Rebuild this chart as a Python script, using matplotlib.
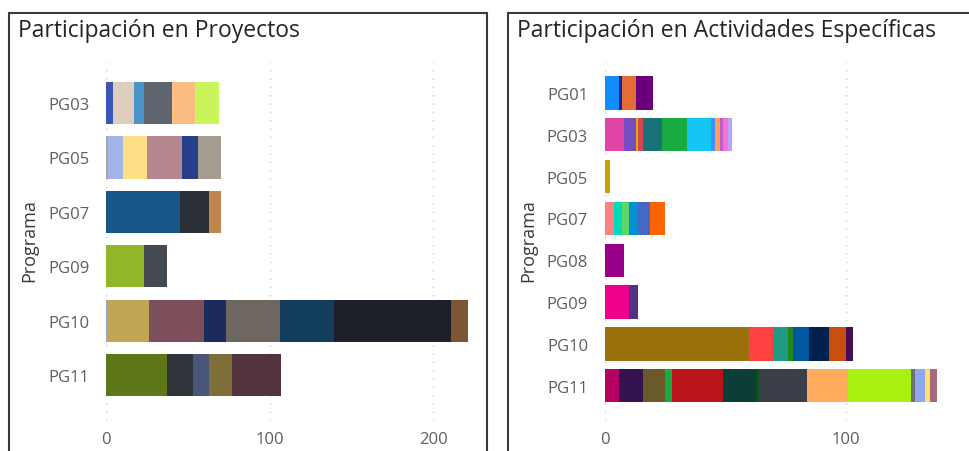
import matplotlib
matplotlib.use("Agg")
import matplotlib.pyplot as plt
from matplotlib.patches import Rectangle
import numpy as np

# ---------------- data ----------------
left_categories = ["PG03", "PG05", "PG07", "PG09", "PG10", "PG11"]
left_values = [
    [4, 13, 6, 17, 14, 15],
    [1, 9, 15, 21, 10, 14],
    [45, 18, 7],
    [23, 14],
    [1, 25, 34, 13, 33, 33, 72, 10],
    [37, 16, 10, 14, 30],
]
left_colors = [
    ["#3a56b8", "#dfcebe", "#4b94c9", "#5f656e", "#fbbd82", "#c9f55b"],
    ["#a8a8a8", "#a3b4ea", "#fde086", "#b6878f", "#26408b", "#a69b8f"],
    ["#175687", "#2b2f37", "#c0864d"],
    ["#93b52a", "#454950"],
    ["#9aa6c8", "#c0a653", "#7c4f5a", "#1c2b5d", "#6e6760", "#123d5d", "#1d2029", "#7c5535"],
    ["#5e7719", "#31333a", "#4a5678", "#7e6e39", "#53333c"],
]
left_ticks = [0, 100, 200]

right_categories = ["PG01", "PG03", "PG05", "PG07", "PG08", "PG09", "PG10", "PG11"]
right_values = [
    [6, 1, 6, 7],
    [8, 5, 1, 2, 8, 10, 10, 2, 2, 1, 2, 2],
    [2],
    [4, 3, 3, 4, 5, 6],
    [8],
    [10, 4],
    [60, 10, 6, 2, 7, 8, 7, 3],
    [6, 10, 9, 3, 21, 14, 1, 20, 17, 26, 2, 4, 2, 3],
]
right_colors = [
    ["#118DFF", "#12239E", "#E66C37", "#6B007B"],
    ["#E044A7", "#744EC2", "#D9B300", "#D64550", "#197278", "#1AAB40",
     "#15C6F4", "#4092FF", "#FFA058", "#BE5DC9", "#F472D0", "#B5A1FF"],
    ["#C4A200"],
    ["#FF8080", "#00DBBC", "#5BD667", "#0091D5", "#4668C5", "#FF6300"],
    ["#99008A"],
    ["#EC008C", "#533285"],
    ["#99700A", "#FF4141", "#1F9A85", "#25891C", "#0057A2", "#002050", "#C94F0F", "#450F54"],
    ["#B60064", "#34124F", "#6A5A29", "#1AAB40", "#BA141A", "#0C3D37", "#0B511F",
     "#3a3f4a", "#FFAA5C", "#A9F20F", "#6b6f76", "#8DA8EC", "#FFE06B", "#A6697B"],
]
right_ticks = [0, 100]

titles = ["Participación en Proyectos", "Participación en Actividades Específicas"]
ylabel = "Programa"

# ---------------- figure ----------------
W, H = 969, 452
fig = plt.figure(figsize=(W / 100, H / 100), dpi=100)
fig.patch.set_facecolor("white")


def px_rect(x0, y0, x1, y1):
    return [x0 / W, 1 - y1 / H, (x1 - x0) / W, (y1 - y0) / H]


# frames
for (x0, x1) in [(9, 487), (508, 975)]:
    fig.patches.append(Rectangle((x0 / W, -0.05), (x1 - x0) / W, 1 - 14 / H + 0.05,
                                 transform=fig.transFigure, fill=False,
                                 edgecolor="#3a3a3a", linewidth=1.5, zorder=0))

# titles
fig.text(18 / W, 1 - 37 / H, titles[0], family="Open Sans", fontsize=16.5, color="#252423")
fig.text(517 / W, 1 - 37 / H, titles[1], family="Open Sans", fontsize=16.5, color="#252423")


def draw(ax_px, cats, vals, cols, ticks, xmax, ylim, height, ylab_x):
    ax = fig.add_axes(px_rect(*ax_px))
    y = np.arange(len(cats))
    for i, (v, c) in enumerate(zip(vals, cols)):
        left = np.concatenate([[0], np.cumsum(v)[:-1]])
        ax.barh([y[i]] * len(v), v, left=left, color=c, height=height,
                edgecolor="none", zorder=3)
    ax.set_xlim(0, xmax)
    ax.set_ylim(*ylim)
    ax.set_yticks(y)
    ax.set_yticklabels(cats, family="Open Sans", fontsize=12, color="#605E5C")
    ax.set_xticks(ticks)
    ax.set_xticklabels([str(t) for t in ticks], family="Open Sans", fontsize=12,
                       color="#605E5C")
    ax.tick_params(length=0)
    ax.tick_params(axis="y", pad=12)
    ax.tick_params(axis="x", pad=7)
    for s in ax.spines.values():
        s.set_visible(False)
    ax.grid(axis="x", color="#c8c8c8", linewidth=1, linestyle=(0, (1, 5)), zorder=0)
    ax.set_axisbelow(True)
    fig.text(ylab_x / W, 1 - 241 / H, ylabel, rotation=90, family="Open Sans",
             fontsize=13, color="#3b3a39", ha="center", va="center")
    return ax


draw((106.3, 63, 475, 422), left_categories, left_values, left_colors, left_ticks,
     (475 - 106.3) / 1.635, (5.841, -0.751), 0.777, 29)
draw((604.7, 63, 945, 422), right_categories, right_values, right_colors, right_ticks,
     (945 - 604.7) / 2.408, (7.844, -0.741), 0.797, 528)

fig.savefig("out.png", dpi=100, facecolor="white")
